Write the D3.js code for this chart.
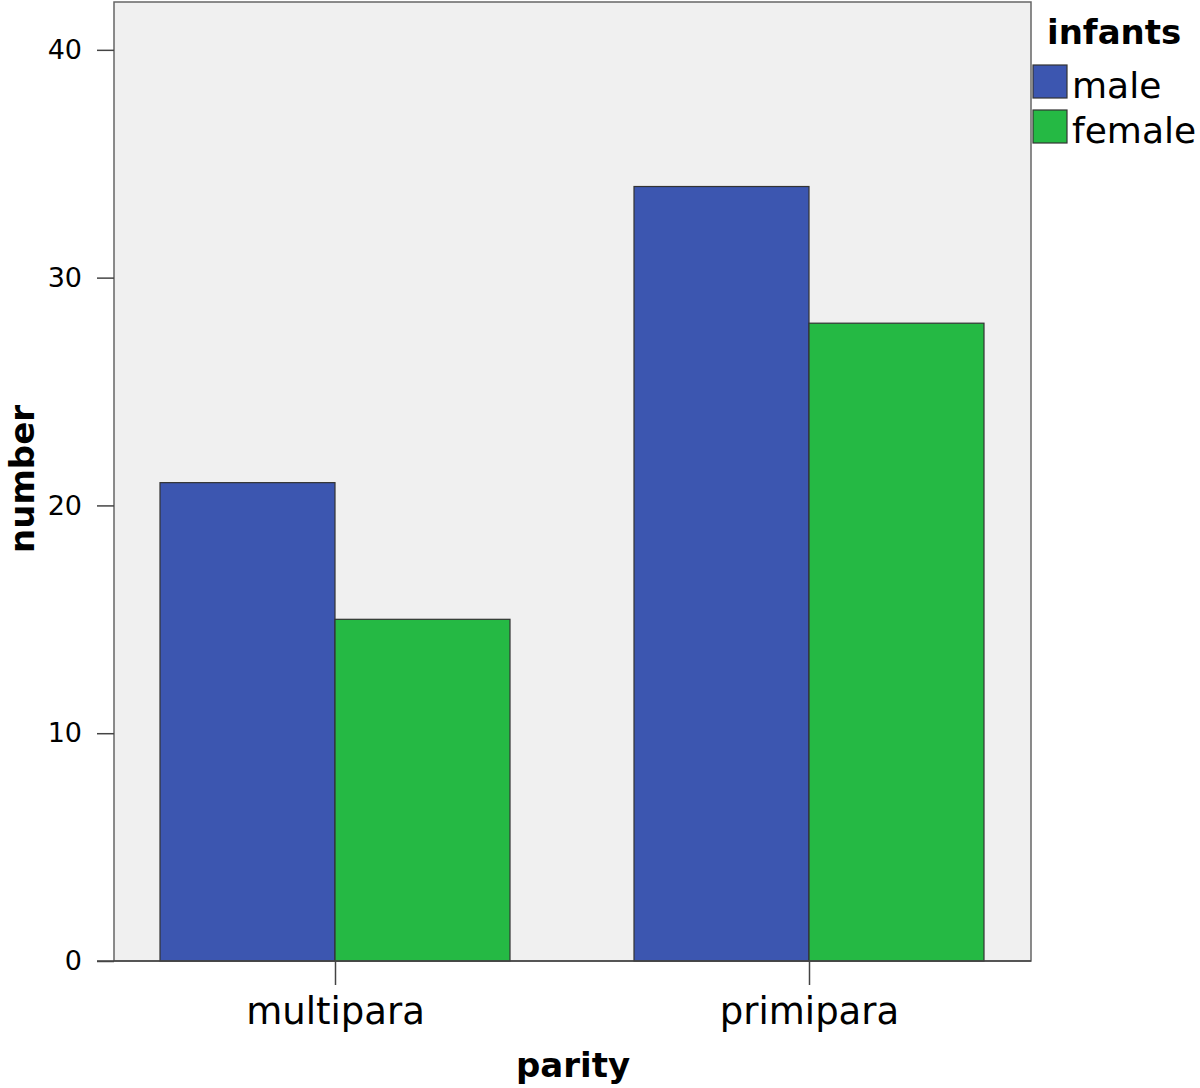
<!DOCTYPE html>
<html><head><meta charset="utf-8">
<script src="https://cdn.jsdelivr.net/npm/d3@7"></script>
<style>body{margin:0;background:#fff}svg{display:block}text{font-family:"DejaVu Sans",sans-serif}</style>
</head><body>
<svg id="c" width="1200" height="1088"></svg>
<script>
const categories = ["multipara", "primipara"];
const seriesNames = ["male", "female"];
const maleValues = [21, 34];
const femaleValues = [15, 28];
const yTicks = [0, 10, 20, 30, 40];
const colors = ["#3c56b0", "#25b944"];

const svg = d3.select("#c");
const L = 114, R = 1031, T = 2, B = 961;
const y = d3.scaleLinear().domain([0, 42.1]).range([B, T]);
const x = d3.scalePoint().domain(categories).range([335, 809]);
const groupW = 350;
const x1 = d3.scaleBand().domain(seriesNames).range([-groupW/2, groupW/2]);

svg.append("rect").attr("x", L).attr("y", T).attr("width", R-L).attr("height", B-T)
  .attr("fill", "#f0f0f0").attr("stroke", "#666").attr("stroke-width", 1.5);

const data = categories.map((c, i) => ({cat: c, vals: [maleValues[i], femaleValues[i]]}));
const g = svg.append("g");
data.forEach(d => {
  d.vals.forEach((v, j) => {
    g.append("rect")
      .attr("x", x(d.cat) + x1(seriesNames[j]))
      .attr("y", y(v))
      .attr("width", x1.bandwidth())
      .attr("height", y(0) - y(v))
      .attr("fill", colors[j])
      .attr("stroke", "#333").attr("stroke-width", 1.2);
  });
});

// y axis
const ya = svg.append("g").attr("transform", `translate(${L},0)`)
  .call(d3.axisLeft(y).tickValues(yTicks).tickSize(17).tickPadding(15).tickFormat(d3.format("d")));
ya.select(".domain").remove();
ya.selectAll("line").attr("stroke", "#444").attr("stroke-width", 1.5);
ya.selectAll("text").style("font-size", "27px").attr("fill", "#000").style("font-family", "DejaVu Sans");
svg.append("line").attr("x1", L - 17).attr("x2", R).attr("y1", B).attr("y2", B).attr("stroke", "#444").attr("stroke-width", 1.5);

// x axis
const xa = svg.append("g").attr("transform", `translate(0,${B})`)
  .call(d3.axisBottom(x).tickSize(24).tickPadding(13));
xa.select(".domain").remove();
xa.selectAll("line").attr("stroke", "#444").attr("stroke-width", 1.5);
xa.selectAll("text").style("font-size", "37px").attr("fill", "#000").style("font-family", "DejaVu Sans");

// axis titles
svg.append("text").attr("x", 573).attr("y", 1077).attr("text-anchor", "middle")
  .style("font-size", "34px").style("font-weight", "bold").text("parity");
svg.append("text").attr("transform", "translate(34,479) rotate(-90)").attr("text-anchor", "middle")
  .style("font-size", "34px").style("font-weight", "bold").text("number");

// legend
const lg = svg.append("g");
lg.append("text").attr("x", 1047).attr("y", 44).style("font-size", "34px").style("font-weight", "bold").text("infants");
seriesNames.forEach((s, i) => {
  lg.append("rect").attr("x", 1033).attr("y", 65 + i*45).attr("width", 34).attr("height", 33)
    .attr("fill", colors[i]).attr("stroke", "#333").attr("stroke-width", 1.2);
  lg.append("text").attr("x", 1072).attr("y", 98 + i*45).style("font-size", "36px").text(s);
});
</script>
</body></html>
